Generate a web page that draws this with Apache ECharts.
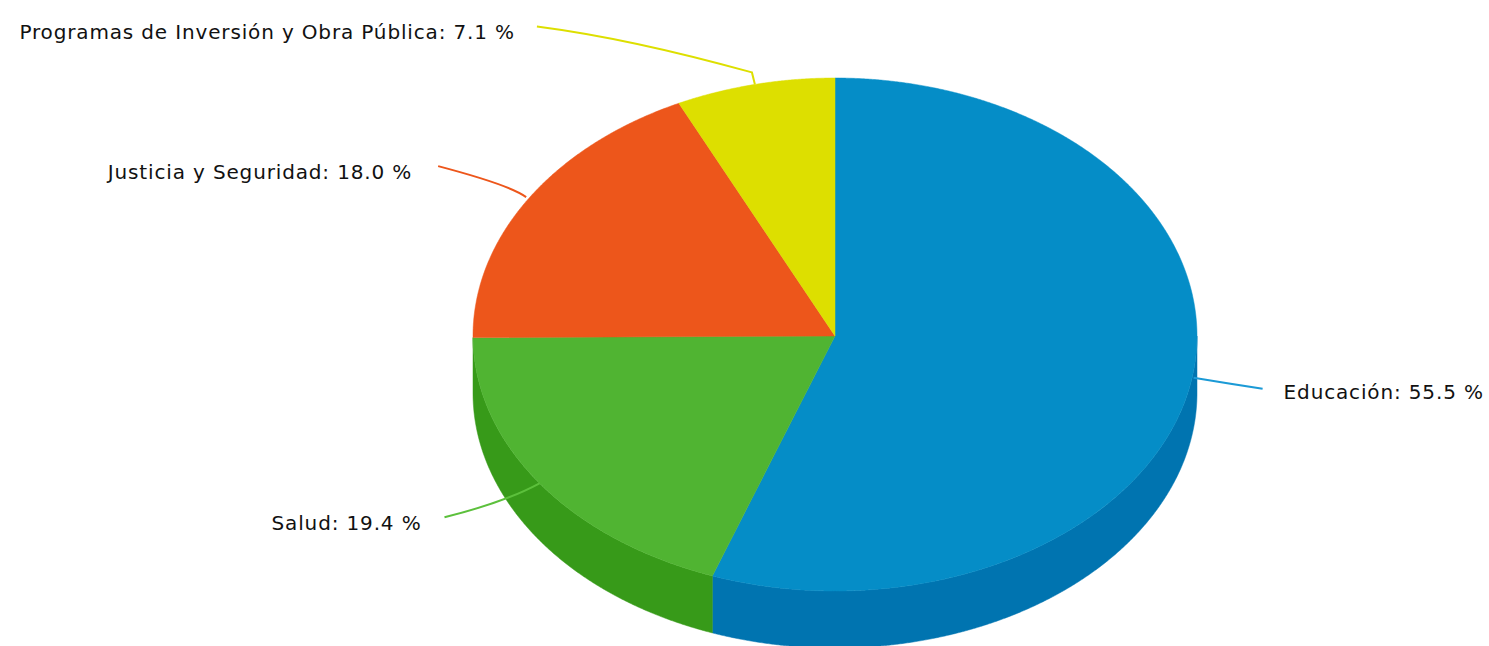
<!DOCTYPE html>
<html>
<head>
<meta charset="utf-8">
<style>html,body{margin:0;padding:0;background:#fff}#c{width:1489px;height:646px}#c text{letter-spacing:0.85px}</style>
<script src="https://cdn.jsdelivr.net/npm/echarts@6/dist/echarts.min.js"></script>
</head>
<body>
<div id="c"></div>
<script>
const sliceNames = ['Educación', 'Salud', 'Justicia y Seguridad', 'Programas de Inversión y Obra Pública'];
const sliceValues = [55.5, 19.4, 18.0, 7.1];
const topColors = ['#058DC7', '#50B432', '#ED561B', '#DDDF00'];
const sideColors = ['#0074B0', '#379A19', '#ED561B', '#DDDF00'];
const lineColors = ['#1B9AD6', '#5CC03C', '#ED561B', '#DDDF00'];

// Pie layout (an elliptical pie with a lower rim)
const cx = 835, cy = 336, rx = 362, ryUp = 258, ryDown = 255, depth = 57;
// Leader offsets, relative to the anchor computed from each slice's mid angle
const leaderStart = [[2, -2], [0, 0], [-2, -2], [0, 0]];
const leaderElbow = [[2, -2], [0, 0], [-2, -2], [-3, -12]];
const leaderCtrl = [[38, 4], [-35, 19], [-18, -14], [-125, -46]];
const leaderEnd = [[71, 9], [-95, 34], [-90, -33], [-218, -58]];
const labelShift = [[21, 3], [-23, 6], [-26, 6], [-22, 6]];
const labelAlign = ['left', 'right', 'right', 'right'];
const labelFont = 'DejaVu Sans';
const labelSize = 20;

const total = sliceValues.reduce((a, b) => a + b, 0);
const startAngle = i => sliceValues.slice(0, i).reduce((a, b) => a + b, 0) / total * Math.PI * 2;
const pt = (t, dy) => {
  const c = Math.cos(t);
  return [cx + rx * Math.sin(t), cy - c * (c > 0 ? ryUp : ryDown) + (dy || 0)];
};
const arc = (a, b, dy) => {
  const n = Math.max(2, Math.ceil((b - a) / 0.004));
  const out = [];
  for (let k = 0; k <= n; k++) out.push(pt(a + (b - a) * k / n, dy));
  return out;
};

function renderSide(params) {
  const i = params.dataIndex;
  const a = Math.max(startAngle(i), Math.PI / 2);
  const b = Math.min(startAngle(i + 1), Math.PI * 1.5);
  if (b - a < 0.02) return { type: 'group', children: [] };
  return {
    type: 'polygon', silent: true,
    shape: { points: arc(a, b, 0).concat(arc(a, b, depth).reverse()) },
    style: { fill: sideColors[i], stroke: sideColors[i], lineWidth: 0.5 }
  };
}
function renderTop(params) {
  const i = params.dataIndex;
  return {
    type: 'polygon', silent: true,
    shape: { points: [[cx, cy]].concat(arc(startAngle(i), startAngle(i + 1), 0)) },
    style: { fill: topColors[i], stroke: topColors[i], lineWidth: 0.5 }
  };
}
function renderLabel(params) {
  const i = params.dataIndex;
  const p = pt((startAngle(i) + startAngle(i + 1)) / 2, 0);
  const at = o => [p[0] + o[0], p[1] + o[1]];
  const s = at(leaderStart[i]), e = at(leaderElbow[i]), c = at(leaderCtrl[i]), d = at(leaderEnd[i]);
  return {
    type: 'group',
    children: [
      {
        type: 'path', silent: true,
        shape: { pathData: `M${s[0]} ${s[1]} L${e[0]} ${e[1]} Q${c[0]} ${c[1]} ${d[0]} ${d[1]}` },
        style: { fill: null, stroke: lineColors[i], lineWidth: 2 }
      },
      {
        type: 'text', silent: true,
        x: d[0] + labelShift[i][0], y: d[1] + labelShift[i][1],
        style: {
          text: sliceNames[i] + ': ' + sliceValues[i].toFixed(1) + ' %',
          fill: '#111', font: labelSize + 'px "' + labelFont + '"',
          align: labelAlign[i], verticalAlign: 'middle'
        }
      }
    ]
  };
}

const chart = echarts.init(document.getElementById('c'), null, { renderer: 'svg' });
const seriesData = sliceValues.map((v, i) => ({ name: sliceNames[i], value: v }));
chart.setOption({
  animation: false,
  backgroundColor: '#fff',
  series: [
    { type: 'custom', coordinateSystem: 'none', clip: false, z: 1, data: seriesData, renderItem: renderSide },
    { type: 'custom', coordinateSystem: 'none', clip: false, z: 2, data: seriesData, renderItem: renderTop },
    { type: 'custom', coordinateSystem: 'none', clip: false, z: 3, data: seriesData, renderItem: renderLabel }
  ]
});
</script>
</body>
</html>
